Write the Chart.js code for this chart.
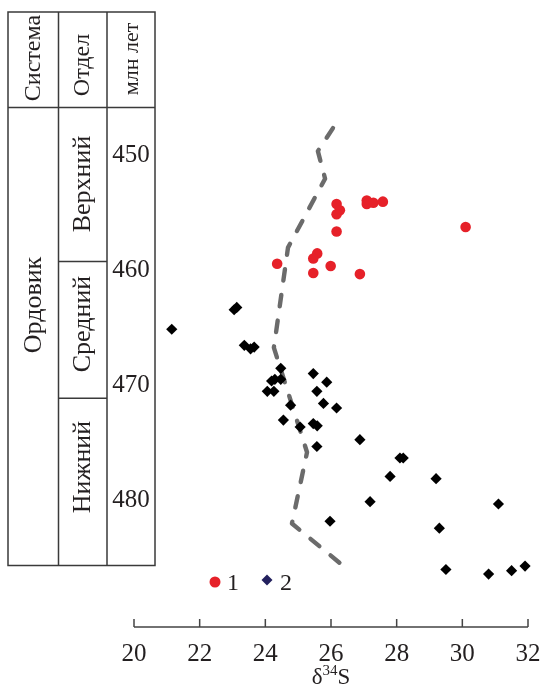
<!DOCTYPE html>
<html>
<head>
<meta charset="utf-8">
<script src="https://cdn.jsdelivr.net/npm/chart.js@4.4.1/dist/chart.umd.min.js"></script>
<style>
  html, body { margin:0; padding:0; background:#fff; }
  #wrap { width:543px; height:685px; }
</style>
</head>
<body>
<div id="wrap"><canvas id="chart" width="543" height="685"></canvas></div>
<script>
// ── data: δ34S (‰) vs age (Ma) ──
const redX   = [26.17, 26.27, 26.17, 27.09, 27.09, 27.29, 27.58, 26.17, 30.10, 24.36, 25.58, 25.46, 25.99, 25.46, 26.88];
const redAge = [454.2, 454.75, 455.1, 453.9, 454.2, 454.1, 454.0, 456.6, 456.2, 459.4, 458.5, 458.95, 459.6, 460.2, 460.3];

const blackX   = [23.13, 23.05, 21.15, 23.36, 23.55, 23.66, 24.47, 25.46, 25.87, 24.19, 24.29, 24.47, 24.06, 24.26, 25.57,
                  24.77, 25.77, 26.17, 24.55, 25.06, 25.46, 25.58, 26.88, 25.57, 28.10, 28.20, 27.80, 29.20, 27.19,
                  31.10, 32.21, 25.97, 29.30, 29.50, 30.80, 31.50, 31.91];
const blackAge = [463.2, 463.4, 465.1, 466.5, 466.8, 466.65, 468.5, 468.95, 469.7, 469.6, 469.45, 469.45, 470.5, 470.5, 470.5,
                  471.7, 471.55, 471.95, 473.0, 473.6, 473.3, 473.5, 474.7, 475.3, 476.3, 476.3, 477.9, 478.1, 480.1,
                  480.3, 480.8, 481.8, 482.4, 486.0, 486.4, 486.1, 485.7];

const curveX   = [26.06, 25.60, 25.82, 24.69, 24.26, 25.27, 24.81, 26.55];
const curveAge = [447.6, 449.6, 452.0, 458.0, 466.7, 475.8, 482.0, 486.1];

const xTicks   = [20, 22, 24, 26, 28, 30, 32];
const ageTicks = [450, 460, 470, 480];
const epochBounds = [459.2, 471.1];
const epochNames  = ['Верхний', 'Средний', 'Нижний'];
const epochMid    = [184, 324, 467];

const pts = (xs, ys) => xs.map((x, i) => ({ x, y: ys[i] }));
const SERIF = '"Liberation Serif", "DejaVu Serif", serif';
const INK = '#231f20';

// ── table, axis line, axis title, legend ──
const frame = {
  id: 'frame',
  afterDraw(chart) {
    const { ctx, chartArea: a, scales: { x, y } } = chart;
    const L = 8, C1 = 58.5, C2 = 107, R = 155, T = 12, H = 107.5, B = 565.5;
    ctx.save();
    ctx.strokeStyle = '#3a3a3a';
    ctx.lineWidth = 1.5;
    ctx.strokeRect(L, T, R - L, B - T);
    ctx.beginPath();
    ctx.moveTo(C1, T); ctx.lineTo(C1, B);
    ctx.moveTo(C2, T); ctx.lineTo(C2, B);
    ctx.moveTo(L, H);  ctx.lineTo(R, H);
    epochBounds.forEach(v => { const py = y.getPixelForValue(v); ctx.moveTo(C1, py); ctx.lineTo(C2, py); });
    ctx.stroke();

    const vtext = (s, cx, cy, size) => {
      ctx.save();
      ctx.translate(cx, cy);
      ctx.rotate(-Math.PI / 2);
      ctx.font = `${size}px ${SERIF}`;
      ctx.fillStyle = INK;
      ctx.textAlign = 'center';
      ctx.textBaseline = 'middle';
      ctx.fillText(s, 0, 0);
      ctx.restore();
    };
    vtext('Система', 34, 58, 24);
    vtext('Отдел', 83, 65, 24);
    vtext('млн лет', 132, 59, 22);
    vtext('Ордовик', 34, 305, 26);
    epochNames.forEach((s, i) => vtext(s, 83, epochMid[i], 26));

    ctx.font = `25px ${SERIF}`;
    ctx.fillStyle = INK;
    ctx.textAlign = 'center';
    ctx.textBaseline = 'middle';
    ageTicks.forEach(v => ctx.fillText(String(v), 131, y.getPixelForValue(v)));

    // x axis line with upward ticks
    ctx.strokeStyle = '#444';
    ctx.beginPath();
    ctx.moveTo(x.getPixelForValue(20), a.bottom);
    ctx.lineTo(x.getPixelForValue(32), a.bottom);
    xTicks.forEach(v => { const px = x.getPixelForValue(v); ctx.moveTo(px, a.bottom); ctx.lineTo(px, a.bottom - 8); });
    ctx.stroke();

    // axis title δ34S
    const cx = (a.left + a.right) / 2, base = 684;
    ctx.textBaseline = 'alphabetic';
    ctx.textAlign = 'left';
    ctx.font = `23px ${SERIF}`;
    const wD = ctx.measureText('δ').width, wS = ctx.measureText('S').width;
    ctx.font = `15px ${SERIF}`;
    const w34 = ctx.measureText('34').width;
    let tx = cx - (wD + w34 + wS) / 2;
    ctx.font = `23px ${SERIF}`;
    ctx.fillText('δ', tx, base); tx += wD;
    ctx.font = `15px ${SERIF}`;
    ctx.fillText('34', tx, base - 9); tx += w34;
    ctx.font = `23px ${SERIF}`;
    ctx.fillText('S', tx, base);

    // legend
    ctx.fillStyle = '#e62129';
    ctx.beginPath(); ctx.arc(215, 582, 5.5, 0, Math.PI * 2); ctx.fill();
    ctx.fillStyle = '#23205e';
    ctx.beginPath();
    ctx.moveTo(267, 574.5); ctx.lineTo(272.5, 580); ctx.lineTo(267, 585.5); ctx.lineTo(261.5, 580);
    ctx.closePath(); ctx.fill();
    ctx.fillStyle = INK;
    ctx.font = `24px ${SERIF}`;
    ctx.textBaseline = 'middle';
    ctx.fillText('1', 227, 583.5);
    ctx.fillText('2', 280, 583.5);
    ctx.restore();
  }
};

new Chart(document.getElementById('chart'), {
  type: 'scatter',
  data: {
    datasets: [
      { label: '1', data: pts(redX, redAge), pointStyle: 'circle', pointRadius: 5.3, backgroundColor: '#e62129', borderWidth: 0, order: 0, clip: false },
      { label: '2', data: pts(blackX, blackAge), pointStyle: 'rectRot', pointRadius: 5.6, backgroundColor: '#000', borderWidth: 0, order: 1, clip: false },
      { label: 'trend', data: pts(curveX, curveAge), showLine: true, pointRadius: 0, borderColor: '#6b6b6b', borderWidth: 4.4,
        borderDash: [11.5, 14.5], borderCapStyle: 'round', borderJoinStyle: 'round', tension: 0, order: 2, clip: false }
    ]
  },
  options: {
    responsive: false,
    animation: false,
    events: [],
    layout: { padding: { left: 134, right: 15, top: 12, bottom: 4 } },
    plugins: { legend: { display: false }, tooltip: { enabled: false } },
    scales: {
      x: {
        type: 'linear', min: 20, max: 32,
        grid: { display: false, drawTicks: false, tickLength: 0 },
        border: { display: false },
        afterBuildTicks: s => { s.ticks = xTicks.map(v => ({ value: v })); },
        afterFit: s => { s.paddingLeft = 0; s.paddingRight = 0; },
        ticks: { color: INK, padding: 12, maxRotation: 0, font: { family: SERIF, size: 25, lineHeight: 1.2 } }
      },
      y: { type: 'linear', reverse: true, min: 437.5, max: 491, display: false }
    }
  },
  plugins: [frame]
});
</script>
</body>
</html>
